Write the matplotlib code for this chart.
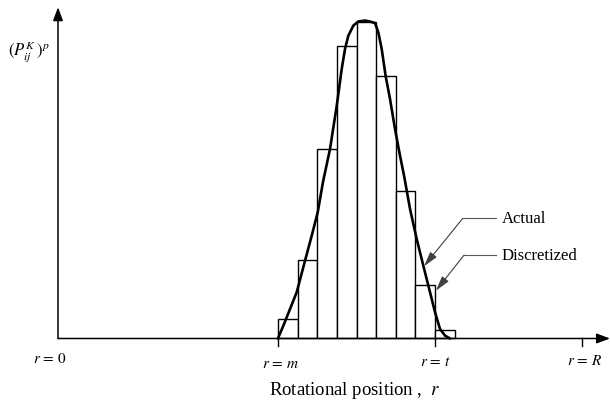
import matplotlib

matplotlib.use("Agg")

import matplotlib.pyplot as plt

plt.rcParams["font.family"] = ["Liberation Serif", "DejaVu Serif"]
plt.rcParams["mathtext.fontset"] = "stix"

# rotational positions (r = 0 ... R mapped to 0 ... 100)
r_marks = [0, 42, 72, 100]
r_labels = [r"$r\,=\,0$", r"$r\,=\,m$", r"$r\,=\,t$", r"$r\,=\,R$"]

# discretized bins starting at r = m
bin_start = 42
bin_width = 3.75
bar_heights = [0.062, 0.248, 0.598, 0.924, 0.997, 0.827, 0.466, 0.169, 0.027]

# actual (continuous) curve
curve_r = [41.99, 43.02, 44.30, 45.58, 47.16, 48.44, 49.59, 50.60, 51.94, 53.22,
           54.17, 54.80, 55.43, 56.39, 57.34, 58.62, 59.58, 60.53, 61.16, 61.81,
           62.57, 63.39, 64.35, 65.30, 66.13, 67.21, 68.49, 69.75, 71.03, 71.99,
           72.94, 73.90, 74.85]
curve_p = [0.0, 0.040, 0.093, 0.146, 0.245, 0.324, 0.398, 0.494, 0.598, 0.734,
           0.850, 0.913, 0.955, 0.987, 1.000, 1.003, 1.000, 0.995, 0.966, 0.913,
           0.827, 0.756, 0.661, 0.577, 0.509, 0.409, 0.314, 0.230, 0.146, 0.083,
           0.030, 0.009, 0.0]

fig = plt.figure(figsize=(6.1, 4.06), dpi=100)
ax = fig.add_axes([0, 0, 1, 1])
ax.set_xlim(-11.075, 105.4)
ax.set_ylim(-0.2098, 1.071)
ax.set_axis_off()

# bars
lefts = [bin_start + i * bin_width for i in range(len(bar_heights))]
ax.bar(lefts, bar_heights, width=bin_width, align="edge", facecolor="white",
       edgecolor="black", linewidth=1.0, zorder=2)

# actual curve
ax.plot(curve_r, curve_p, color="black", linewidth=1.9, solid_joinstyle="round",
        solid_capstyle="round", zorder=3)

# axes with arrows
arrow = dict(arrowstyle="-|>,head_length=0.8,head_width=0.3", color="black",
             lw=1.1, mutation_scale=10, shrinkA=0, shrinkB=0)
ax.annotate("", xy=(105.4, 0), xytext=(0, 0), arrowprops=arrow, zorder=4)
ax.annotate("", xy=(0, 1.045), xytext=(0, 0), arrowprops=arrow, zorder=4)

# ticks and labels on the r axis
label_y = [-0.062, -0.080, -0.073, -0.068]
label_dx = [-1.5, 0.5, 0, 0.5]
for r, lab, ly, dx in zip(r_marks, r_labels, label_y, label_dx):
    if r > 0:
        ax.plot([r, r], [0, -0.025], color="black", linewidth=1.0, zorder=4)
    ax.text(r + dx, ly, lab, ha="center", va="center", fontsize=11)

ax.text(56.6, -0.162, "Rotational position ,  $r$", ha="center", va="center",
        fontsize=13.5)
ax.text(-5.6, 0.907, r"$(P_{ij}^{K}\,)^{p}$", ha="center", va="center", fontsize=12)

# leader annotations
leader = dict(arrowstyle="-|>,head_length=0.9,head_width=0.25", color="0.25",
              lw=0.8, mutation_scale=10, shrinkA=0, shrinkB=0)
notes = [("Actual", 0.379, 77.28, (69.89, 0.228)),
         ("Discretized", 0.263, 77.53, (72.18, 0.151))]
for txt, ly, elbow_r, tip in notes:
    ax.plot([elbow_r, 83.63], [ly, ly], color="0.35", linewidth=0.8)
    ax.annotate("", xy=tip, xytext=(elbow_r, ly), arrowprops=leader, zorder=5)
    ax.text(84.7, ly, txt, ha="left", va="center", fontsize=12)

fig.savefig("out.png", dpi=100)
